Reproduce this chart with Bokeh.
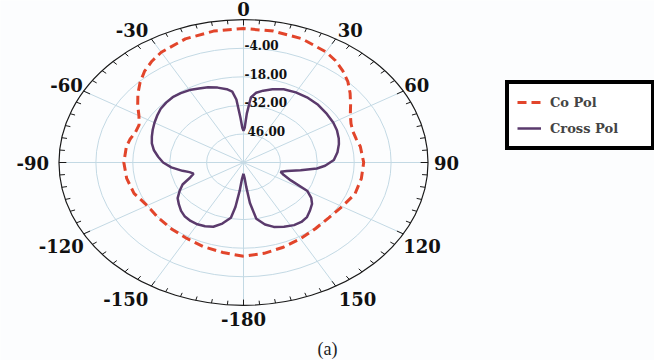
import numpy as np
from bokeh.plotting import figure
from bokeh.models import Legend, LegendItem
from bokeh.core.properties import value
from bokeh.embed import file_html
from bokeh.resources import INLINE

# ---- pattern data (angle in degrees, clockwise from top; level in dB) ----
co_angle = [-180, -170, -160, -150, -140, -130, -120, -110, -100, -90, -80, -75, -70,
            -65, -60, -55, -50, -45, -40, -35, -30, -20, -10, 0, 10, 20, 30, 35, 40,
            45, 50, 55, 60, 65, 70, 75, 80, 90, 100, 110, 120, 130, 140, 150, 160,
            170, 180]
co_level = [-14.0, -15.2, -16.0, -17.0, -17.5, -17.8, -17.8, -15.8, -15.0, -14.6, -14.9,
            -15.5, -16.4, -16.3, -14.2, -11.0, -7.7, -4.5, -1.6, 0.6, 2.4, 4.5, 5.4, 5.7,
            5.4, 4.6, 2.6, 0.9, -1.4, -4.0, -7.2, -10.4, -13.2, -15.0, -15.8, -15.7,
            -15.0, -14.4, -14.6, -15.0, -16.8, -17.8, -17.6, -16.8, -15.8, -14.8, -14.0]

cx_angle = [-180, -176, -174, -172, -170, -165, -160, -155, -150, -145, -140, -135,
            -130, -125, -120, -115, -110, -106, -103, -100, -95, -90, -85, -80, -75,
            -70, -65, -60, -55, -50, -45, -40, -35, -30, -25, -20, -15, -10, -7, -5,
            -3, -1.5, 0, 1.5, 3, 5, 8, 12, 17, 23, 30, 37, 45, 53, 60, 66, 72, 76, 82,
            88, 93, 96, 100, 104, 108, 112, 116, 120, 124, 128, 133, 138, 143, 148,
            154, 160, 165, 170, 173, 175, 177, 180]
cx_level = [-54.5, -52.0, -46.0, -38.0, -32.5, -29.0, -26.5, -25.5, -25.0, -25.0, -25.4,
            -26.5, -28.0, -29.5, -32.0, -34.5, -38.5, -40.3, -39.0, -36.5, -32.5, -29.5,
            -27.5, -25.5, -24.0, -23.0, -22.0, -21.0, -20.0, -19.0, -18.5, -18.2, -18.5,
            -19.0, -20.0, -20.7, -22.0, -23.5, -25.0, -29.0, -38.0, -43.0, -44.4, -43.0,
            -36.0, -28.0, -25.5, -24.0, -22.5, -21.0, -20.3, -20.0, -20.0, -20.4, -20.7,
            -21.2, -22.0, -22.7, -24.0, -25.7, -29.0, -32.0, -38.0, -43.0, -45.2, -43.5,
            -40.0, -32.0, -29.0, -27.0, -25.5, -24.0, -23.5, -23.8, -25.0, -26.4, -28.5,
            -32.0, -40.0, -48.0, -52.5, -54.5]

ring_levels = [-46, -32, -18, -4]
ring_labels = ["46.00", "-32.00", "-18.00", "-4.00"]
angle_ticks = [0, 30, 60, 90, 120, 150, 180, -150, -120, -90, -60, -30]
angle_labels = ["0", "30", "60", "90", "120", "150", "-180", "-150", "-120", "-90", "-60", "-30"]

# radial axis: centre of the plot is -60 dB, rim is +10 dB
R_MIN, R_MAX = -60.0, 10.0
RIM = R_MAX - R_MIN


def to_xy(angles, levels):
    t = np.radians(np.asarray(angles, dtype=float))
    r = np.clip(np.asarray(levels, dtype=float) - R_MIN, 0, None)
    return r * np.sin(t), r * np.cos(t)


# canvas scale (px per dB unit) differs horizontally and vertically
W, H = 654, 360
CX, CY = 243.0, 162.0
SX, SY = 2.636, 2.04

p = figure(width=W, height=H, output_backend="svg", toolbar_location=None,
           x_range=(-CX / SX, (W - CX) / SX), y_range=(-(H - CY) / SY, CY / SY),
           x_axis_location=None, y_axis_location=None, min_border=0,
           background_fill_color="#fcfdfe", border_fill_color="#fcfdfe",
           outline_line_color=None)
p.grid.visible = False

SERIF_B = value("DejaVu Serif")
grid_col = "#c3d9e4"
# concentric rings
for lv in ring_levels:
    p.ellipse(x=0, y=0, width=2 * (lv - R_MIN), height=2 * (lv - R_MIN),
              fill_color=None, line_color=grid_col, line_width=1)
# spokes every 30 degrees
sp = np.radians(np.arange(0, 360, 30))
p.segment(x0=0, y0=0, x1=RIM * np.sin(sp), y1=RIM * np.cos(sp),
          line_color=grid_col, line_width=1)

# rim with inward ticks every 5 degrees
p.ellipse(x=0, y=0, width=2 * RIM, height=2 * RIM, fill_color=None,
          line_color="#1a1a1a", line_width=1.2)
tk = np.arange(0, 360, 5)
tk_len = np.where(tk % 30 == 0, 2.8, 2.0)
tr = np.radians(tk)
p.segment(x0=RIM * np.sin(tr), y0=RIM * np.cos(tr),
          x1=(RIM - tk_len) * np.sin(tr), y1=(RIM - tk_len) * np.cos(tr),
          line_color="#1a1a1a", line_width=1)

# ring value labels along the 0-degree spoke
p.text(x=[0] * len(ring_levels), y=[lv - R_MIN for lv in ring_levels], text=ring_labels,
       x_offset=[4, 1, 1, 1], y_offset=-3, text_align="left", text_baseline="middle",
       text_font=SERIF_B, text_font_style="bold",
       text_font_size="12px", text_color="#111111")

# angle labels around the rim
lab_dx = [0, 2, 1, 6, 0, 3, 0, -3, 0, -10, -1, -3]
lab_dy = [-11, -9, -6, 0, 12, 13, 14, 13, 12, 0, -6, -9]
lab_align = ["center", "left", "left", "left", "left", "left", "center",
             "right", "right", "right", "right", "right"]
ax, ay = to_xy(angle_ticks, [R_MAX] * len(angle_ticks))
for i in range(len(angle_ticks)):
    p.text(x=[ax[i]], y=[ay[i]], text=[angle_labels[i]], x_offset=lab_dx[i],
           y_offset=lab_dy[i], text_align=lab_align[i], text_baseline="middle",
           text_font=SERIF_B, text_font_style="bold",
           text_font_size="18px", text_color="#111111")

# pattern curves
x1, y1 = to_xy(co_angle, co_level)
x2, y2 = to_xy(cx_angle, cx_level)
r_co = p.line(x1, y1, line_color="#e2452b", line_width=3, line_dash="9 5")
r_cx = p.line(x2, y2, line_color="#5a3a6c", line_width=2.5)

legend = Legend(items=[LegendItem(label="Co Pol", renderers=[r_co]),
                       LegendItem(label="Cross Pol", renderers=[r_cx])],
                location=(505, 210), border_line_color="black", border_line_width=4,
                border_line_alpha=1,
                background_fill_color="white", background_fill_alpha=1,
                label_text_font="DejaVu Serif", label_text_font_style="bold",
                label_text_font_size="13px", glyph_width=24, glyph_height=20,
                label_height=20, label_width=93, label_standoff=9, spacing=6,
                padding=8, margin=0)
p.add_layout(legend)

# sub-figure caption
p.text(x=[(327 - CX) / SX], y=[(CY - 348) / SY], text=["(a)"], text_align="center",
       text_baseline="middle", text_font=value("Liberation Serif"),
       text_font_size="18px", text_color="#222222")

open("out.html", "w").write(file_html(p, INLINE))
